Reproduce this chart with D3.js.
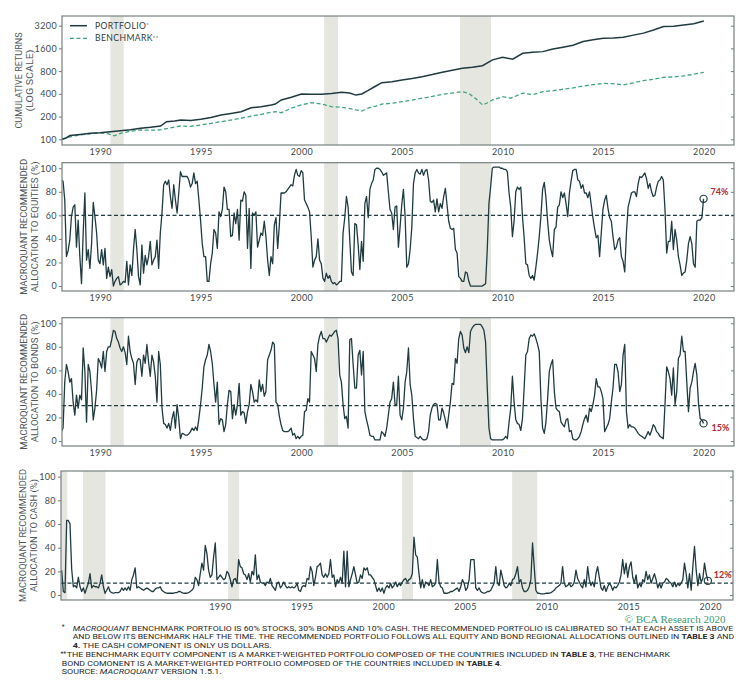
<!DOCTYPE html>
<html>
<head>
<meta charset="utf-8">
<script src="https://cdn.jsdelivr.net/npm/d3@7"></script>
<style>
  body { margin: 0; background: #fff; }
  .tick text { font-family: Lato, "Open Sans", sans-serif; font-size: 9px; fill: #3d4b50; letter-spacing: 0.4px; }
  .tick line { stroke: #6f7a7c; }
</style>
</head>
<body>
<svg id="chart" width="752" height="684"></svg>
<script>
// ---- data ----
var yearTicks = [1990, 1995, 2000, 2005, 2010, 2015, 2020];
var cumTicks = [100, 200, 400, 800, 1600, 3200];
var pctTicks = [0, 20, 40, 60, 80, 100];

// US recessions [start, end] in decimal years
var recessions = [[1980.0, 1980.66], [1981.62, 1983.0], [1990.5, 1991.17], [2001.13, 2001.82], [2007.88, 2009.42]];

// cumulative returns (log scale), [year, index]
var portfolio = [
  [1988.1,100],[1988.3,104],[1988.5,112],[1989,116],[1989.5,120],[1990,122],[1990.5,126],[1991,130],[1991.5,134],
  [1992,140],[1992.5,144],[1993,150],[1993.3,171],[1993.7,175],[1994,180],[1994.5,178],[1995,184],[1995.5,195],
  [1996,210],[1996.5,220],[1997,232],[1997.5,262],[1998,270],[1998.5,285],[1998.7,293],[1999,332],[1999.5,360],
  [2000,398],[2000.5,395],[2001,395],[2001.5,405],[2002,420],[2002.4,410],[2002.7,385],[2003,398],[2003.3,440],
  [2003.7,508],[2004,563],[2004.5,580],[2005,612],[2005.5,640],[2006,676],[2006.5,720],[2007,773],[2007.5,820],
  [2008,874],[2008.5,900],[2009,944],[2009.5,1128],[2010,1220],[2010.5,1150],[2011,1380],[2011.5,1420],[2012,1450],
  [2012.5,1570],[2013,1660],[2013.5,1760],[2014,1970],[2014.5,2080],[2015,2180],[2015.5,2200],[2016,2250],
  [2016.5,2400],[2017,2550],[2017.5,2800],[2018,3120],[2018.5,3150],[2019,3270],[2019.5,3400],[2020,3700]
];
var benchmark = [
  [1988.1,100],[1988.5,108],[1989,114],[1989.5,118],[1990,122],[1990.4,118],[1990.7,111],[1991,120],[1991.5,128],
  [1992,133],[1992.5,132],[1993,133],[1993.5,142],[1994,150],[1994.5,148],[1995,155],[1995.5,162],[1996,171],
  [1996.5,180],[1997,190],[1997.5,202],[1998,214],[1998.5,228],[1998.7,232],[1999,225],[1999.5,258],[2000,285],
  [2000.5,306],[2001,293],[2001.5,270],[2002,266],[2002.4,255],[2002.7,245],[2003,237],[2003.3,258],[2003.7,276],
  [2004,293],[2004.5,300],[2005,315],[2005.5,330],[2006,350],[2006.5,370],[2007,394],[2007.5,410],[2008,428],
  [2008.3,408],[2008.7,340],[2009,285],[2009.2,300],[2009.5,332],[2010,367],[2010.4,350],[2011,408],[2011.5,390],
  [2012,428],[2012.5,440],[2013,460],[2013.5,480],[2014,508],[2014.5,530],[2015,550],[2015.5,545],[2016,525],
  [2016.5,560],[2017,598],[2017.5,625],[2018,662],[2018.5,670],[2019,690],[2019.5,730],[2020,770]
];

// recommended allocations, monthly from early 1988 (%)
var allocStart = 1988.07;
var equityValues = [
  90,89,73,25,30,39,59,67,69,33,56,25,2,45,
  79,22,31,15,36,71,59,45,22,19, 31,18,32,6.5,16,8,14,0,4,6.5, 8,1,2,4,3,21,1,18,9,31,
  48,31,8,1,35,11,26,18,25,38, 18,22,25,39,15,45,62,86,89,86, 90,76,66,86,73,62,79,97,93,93,
  93,93,90,84,87,96,87,89,73,56, 36,25,25,4,
  4,19,28,48,45,32,63,59,65,84, 80,65,65,42,43,62,53,65,39,73, 72,80,77,32,66,15,62,60,63,33,
  39,45,43,55,42,22,9,25,19,52, 58,32,52,79,79,79,80,82,84,86, 85,94,99,94,93,98,96,73,70,67,
  63,42,16,22,25,40,22,19,6.5,4, 11,6.5,9,4,2,3,1,2,4,4, 45,58,76,67,39,12,9,53,52,35,
  14,38,21,70,76,58,82,87,90,99, 100,
  100,99,97,94,95,96,80,65,62,48, 67,68,33,50,69,82,59,16,19,31, 50,87,96,99,96,95,99,94,98,99,
  90,72,71,73,63,74,63,70,66,76, 83,69,55,49,48,49,31,28,8,6.5, 4,4,12,11,4,0,0,0,0,0,
  0,0,0,1,2,31,70,84,100,101, 101,101,101,100,100,99,99,97,79,67, 42,55,80,84,82,84,59,41,19,18,
  9,6.5,9,5,16,28,42,59,82,88, 75,55,39,31,25,48,50,67,69,80, 75,79,70,59,79,89,98,99,99,90,
  89,83,86,79,79,75,80,69,58,49, 41,43,25,45,65,73,77,66,58,55, 42,31,33,39,41,25,21,12,45,67,
  73,79,80,80,76,87,93,92,94,96, 91,83,87,80,76,77,84,89,90,93, 90,65,28,38,38,55,31,48,39,25,
  18,9,11,12,22,36,42,36,19,16, 55,56,56,58,74
];
var bondValues = [
  8,11,50,65,59,50,53,33,22,39, 28,39,35,79,59,16,65,59,42,18, 28,43,70,67,62,76,59,76,80,80,
  86,94,93,87,84,79,76,80,75,65, 89,76,70,66,48,67,70,69,55,73, 66,82,67,55,73,67,55,33,76,65,
  28,15,14,11,15,9,19,25,11,31, 19,2,6.5,6,5,5,6,8,11,9, 12,9,19,31,45,63,69,73,82,76,
  66,48,33,50,14,19,18,8,14,31, 43,42,19,31,22,31,49,22,25,24, 15,25,31,48,42,33,35,33,52,42,
  48,38,42,69,73,77,84,82,33,31, 21,14,9,8,8,8,9,11,5,6.5, 2,4,2,4,5,25,26,36,33,76,
  73,70,59,82,89,93,87,87,84,87, 90,89,91,93,94,87,56,50,31,19, 21,11,86,87,65,45,45,73,77,56,
  76,25,18,12,5,4,4,1,1,
  1,1,8,6.5,4,11,22,33,36,50, 31,31,55,22,18,28,50,59,79,48, 39,19,4,3,2,4,2,1,1,2,
  8,22,28,31,32,31,18,18,28,24, 18,11,22,33,49,48,70,66,87,93, 90,79,75,80,75,93,96,98,99,99,
  99,99,97,94,84,45,11,2,1,1, 1,1,1,1,1,2,4,2,16,28, 55,33,18,15,14,9,19,45,73,76,
  87,90,89,91,87,82,76,36,11,6.5, 16,36,59,65,69,42,28,26,25,16, 14,12,18,19,8,9,2,1,1,2,
  4,8,14,19,22,16,28,25,31,39, 53,46,46,42,36,8,11,14,19,33, 45,65,65,59,42,48,73,82,25,11,
  14,12,12,11,9,6.5,5,4,3,2, 5,8,5,9,14,12,8,6.5,4,3, 2,31,63,59,53,39,62,31,42,70,
  73,89,76,76,50,25,45,50,59,66, 56,32,19,18,15
];
// cash allocation, sampled about every 0.1 year from mid-1980 (%)
var cashStart = 1980.31;
var cashStep = 0.1022;
var cashValues = [
  21,3,2,63,63,60,22,7,8,6, 15,7,3,6,1.5,6,10,18,6,8, 7,7,6,10,17,7,1.5,4,7,3,
  2,1.5,2,2,2,3,6,4,6,4, 7,4,13,17,23,6,7,6,5,4, 5,6,5,4,3,3,5,6,6,7,
  4,3,2,1.5,1.5,1.5,1.5,1.5,2,2, 3,3,2,1.5,1.5,1.5,2,3,4,6, 15,13,8,18,27,21,42,35,21,15,
  17,32,44,13,15,17,15,13,14,20, 18,13,7,13,14,10,30,24,23,18, 17,13,18,11,20,17,34,13,17,11,
  10,10,8,11,10,14,8,6,4,10, 11,6,8,11,8,6,7,6,7,6, 7,10,4,3,7,8,7,14,13,24,
  20,8,15,24,25,27,17,15,18,15, 18,30,15,17,7,13,10,15,10,37, 7,37,7,13,18,24,17,10,11,17,
  14,23,21,23,17,17,15,13,8,
  3,6,3,6,1.5,6,8,6,10,6, 8,11,7,10,8,11,13,14,11,13, 14,18,49,34,32,18,6,13,6,11,
  10,8,13,7,8,10,30,11,7,6, 1.5,1.5,1.5,2,3,3,4,5,6,3, 7,13,10,4,6,13,30,30,30,6,
  4,6,3,2,1.5,2,3,3,4,7, 10,24,10,8,21,15,8,6,7,10, 8,13,14,18,24,11,13,6,3,3,
  4,7,13,44,24,4,1.5,1.5,1,1, 1,1.5,1.5,1.5,2,3,4,6,7,8, 10,24,10,7,8,10,7,8,11,21,
  14,11,8,6,13,7,24,13,8,11, 7,18,24,15,6,4,8,3,7,10, 8,4,7,6,8,11,17,30,18,27,
  15,24,28,15,10,17,6,10,7,13, 11,20,13,17,10,14,18,13,6,10, 6,10,11,14,13,11,10,7,11,7,
  10,8,10,13,27,18,6,18,4,24, 41,21,8,18,11,14,27,18,12
];
var benchmarkWeights = { equity: 60, bonds: 30, cash: 10 };

var footnotes = [
  { mark: "*", parts: [["MACROQUANT", "i"], [" BENCHMARK PORTFOLIO IS 60% STOCKS, 30% BONDS AND 10% CASH. THE RECOMMENDED PORTFOLIO IS CALIBRATED SO THAT EACH ASSET IS ABOVE", ""]] },
  { parts: [["AND BELOW ITS BENCHMARK HALF THE TIME. THE RECOMMENDED PORTFOLIO FOLLOWS ALL EQUITY AND BOND REGIONAL ALLOCATIONS OUTLINED IN ", ""], ["TABLE 3", "b"], [" AND", ""]] },
  { parts: [["4.", "b"], [" THE CASH COMPONENT IS ONLY US DOLLARS.", ""]] },
  { mark: "**", parts: [["THE BENCHMARK EQUITY COMPONENT IS A MARKET-WEIGHTED PORTFOLIO COMPOSED OF THE COUNTRIES INCLUDED IN ", ""], ["TABLE 3", "b"], [", THE BENCHMARK", ""]] },
  { parts: [["BOND COMONENT IS A MARKET-WEIGHTED PORTFOLIO COMPOSED OF THE COUNTRIES INCLUDED IN ", ""], ["TABLE 4", "b"], [".", ""]] },
  { parts: [["SOURCE: ", ""], ["MACROQUANT", "i"], [" VERSION 1.5.1.", ""]] }
];

// ---- drawing ----
var svg = d3.select("#chart");
var darkLine = "#1f3b40";
var green = "#3fa57b";
var frameColor = "#75807f";
var labelFont = "Roboto, 'Liberation Sans', Arial, sans-serif";

var xMain = d3.scaleLinear().domain([1988.1, 2021.5]).range([62, 734]);
var xCash = d3.scaleLinear().domain([1980.27, 2021.4]).range([61, 733]);

function monthly(start, values) {
  return values.map(function (v, i) { return [start + i / 12, v]; });
}
function stepped(start, step, values) {
  return values.map(function (v, i) { return [start + i * step, v]; });
}

var panels = [
  { id: "cum", top: 16, bottom: 145, x: xMain,
    y: d3.scaleLog().domain([84, 4300]).range([145, 16]), ticks: cumTicks,
    label: ["CUMULATIVE RETURNS", "(LOG SCALE)"], labelX: [18, 29.5], labelLen: [96, 62] },
  { id: "eq", top: 162.7, bottom: 291, x: xMain,
    y: d3.scaleLinear().domain([-4.2, 104.7]).range([291, 162.7]), ticks: pctTicks,
    series: monthly(allocStart, equityValues), ref: benchmarkWeights.equity,
    label: ["MACROQUANT RECOMMENDED", "ALLOCATION TO EQUITIES (%)"], labelX: [23.3, 34.3], labelLen: [136, 131],
    note: { text: "74%", dx: 7, dy: -7 } },
  { id: "bd", top: 317.7, bottom: 446, x: xMain,
    y: d3.scaleLinear().domain([-4.2, 104.7]).range([446, 317.7]), ticks: pctTicks,
    series: monthly(allocStart, bondValues), ref: benchmarkWeights.bonds,
    label: ["MACROQUANT RECOMMENDED", "ALLOCATION TO BONDS (%)"], labelX: [23.3, 34.3], labelLen: [136, 121],
    note: { text: "15%", dx: 8, dy: 4.5 } },
  { id: "cs", top: 471, bottom: 600, x: xCash,
    y: d3.scaleLinear().domain([-4.2, 104.8]).range([600, 471]), ticks: pctTicks,
    series: stepped(cashStart, cashStep, cashValues), ref: benchmarkWeights.cash,
    label: ["MACROQUANT RECOMMENDED", "ALLOCATION TO CASH (%)"], labelX: [22.7, 33.7], labelLen: [133, 113],
    note: { text: "12%", dx: 6, dy: -5.5 } }
];

panels.forEach(function (p) {
  var x0 = p.x.range()[0], x1 = p.x.range()[1];
  var g = svg.append("g");

  g.append("clipPath").attr("id", "clip-" + p.id)
    .append("rect").attr("x", x0).attr("y", p.top).attr("width", x1 - x0).attr("height", p.bottom - p.top);

  // recession bands
  var dom = p.x.domain();
  g.selectAll("rect.band")
    .data(recessions.filter(function (r) { return r[1] > dom[0]; }))
    .join("rect")
    .attr("class", "band")
    .attr("x", function (d) { return p.x(Math.max(d[0], dom[0])); })
    .attr("width", function (d) { return p.x(d[1]) - p.x(Math.max(d[0], dom[0])); })
    .attr("y", p.top)
    .attr("height", p.bottom - p.top)
    .attr("fill", "#e6e6e1");

  // axes
  g.append("g")
    .attr("transform", "translate(" + x0 + ",0)")
    .call(d3.axisLeft(p.y).tickValues(p.ticks).tickFormat(d3.format("d")).tickSize(3).tickPadding(2))
    .call(function (a) { a.select(".domain").remove(); });
  g.append("g")
    .attr("transform", "translate(" + x1 + ",0)")
    .call(d3.axisLeft(p.y).tickValues(p.ticks).tickFormat("").tickSize(3))
    .call(function (a) { a.select(".domain").remove(); });
  g.append("g")
    .attr("transform", "translate(0," + p.bottom + ")")
    .call(d3.axisBottom(p.x).tickValues(yearTicks).tickFormat(d3.format("d")).tickSize(0).tickPadding(4))
    .call(function (a) { a.select(".domain").remove(); });

  var plot = g.append("g").attr("clip-path", "url(#clip-" + p.id + ")");

  if (p.id === "cum") {
    var line = d3.line().x(function (d) { return p.x(d[0]); }).y(function (d) { return p.y(d[1]); });
    plot.append("path").datum(benchmark)
      .attr("fill", "none").attr("stroke", green).attr("stroke-width", 1.3)
      .attr("stroke-dasharray", "4,2.5").attr("d", line);
    plot.append("path").datum(portfolio)
      .attr("fill", "none").attr("stroke", darkLine).attr("stroke-width", 1.5).attr("d", line);

    // legend
    var leg = g.append("g").attr("font-family", "Lato, 'Open Sans', sans-serif").attr("font-size", 8.6)
      .attr("fill", "#2f3a3d").attr("letter-spacing", 0.4);
    leg.append("line").attr("x1", 70).attr("x2", 87).attr("y1", 25.7).attr("y2", 25.7)
      .attr("stroke", darkLine).attr("stroke-width", 1.5);
    leg.append("line").attr("x1", 70).attr("x2", 87).attr("y1", 38.3).attr("y2", 38.3)
      .attr("stroke", green).attr("stroke-width", 1.3).attr("stroke-dasharray", "4,2.5");
    var t1 = leg.append("text").attr("x", 95).attr("y", 25.7).attr("dy", "0.35em");
    t1.append("tspan").text("PORTFOLIO");
    t1.append("tspan").attr("font-size", 6).attr("dy", "-0.3em").text("*");
    var t2 = leg.append("text").attr("x", 95).attr("y", 38.3).attr("dy", "0.35em");
    t2.append("tspan").text("BENCHMARK");
    t2.append("tspan").attr("font-size", 6).attr("dy", "-0.3em").text("**");
  } else {
    plot.append("line")
      .attr("x1", x0).attr("x2", x1).attr("y1", p.y(p.ref)).attr("y2", p.y(p.ref))
      .attr("stroke", darkLine).attr("stroke-width", 1.3).attr("stroke-dasharray", "4,2.5");
    var aline = d3.line().x(function (d) { return p.x(d[0]); }).y(function (d) { return p.y(d[1]); });
    plot.append("path").datum(p.series)
      .attr("fill", "none").attr("stroke", darkLine).attr("stroke-width", 1.3)
      .attr("stroke-linejoin", "round").attr("d", aline);

    var last = p.series[p.series.length - 1];
    g.append("circle").attr("cx", p.x(last[0])).attr("cy", p.y(last[1])).attr("r", 3.6)
      .attr("fill", "none").attr("stroke", darkLine).attr("stroke-width", 1.2);
    g.append("text").attr("x", p.x(last[0]) + p.note.dx).attr("y", p.y(last[1]) + p.note.dy)
      .attr("dy", "0.35em").attr("font-family", "Lato, 'Open Sans', sans-serif")
      .attr("font-size", 9).attr("font-weight", "bold").attr("fill", "#b3282c")
      .text(p.note.text);
  }

  // frame
  g.append("rect").attr("x", x0).attr("y", p.top).attr("width", x1 - x0).attr("height", p.bottom - p.top)
    .attr("fill", "none").attr("stroke", frameColor).attr("stroke-width", 1.2);

  // y label
  var cy = (p.top + p.bottom) / 2;
  p.label.forEach(function (s, i) {
    g.append("text")
      .attr("transform", "translate(" + p.labelX[i] + "," + cy + ") rotate(-90)")
      .attr("text-anchor", "middle").attr("dominant-baseline", "central")
      .attr("font-family", labelFont).attr("font-size", 9.5).attr("fill", "#4d5659")
      .attr("textLength", p.labelLen[i]).attr("lengthAdjust", "spacingAndGlyphs")
      .text(s);
  });
});

// copyright
svg.append("text").attr("x", 725.5).attr("y", 618.7).attr("dy", "0.35em")
  .attr("text-anchor", "end").attr("font-family", "'Liberation Serif', 'DejaVu Serif', serif")
  .attr("font-size", 11).attr("fill", "#3a9a6e").text("\u00a9 BCA Research 2020");

// footnotes
var noteRows = [
  { y: 628, x: 72.7, w: 660.6, markX: 61.7 },
  { y: 636.7, x: 72.7, w: 661.6 },
  { y: 645.3, x: 72.7, w: 199 },
  { y: 654.7, x: 66.7, w: 603.3, markX: 60.5 },
  { y: 663, x: 61.7, w: 440.3 },
  { y: 671.3, x: 61.7, w: 160 }
];
footnotes.forEach(function (f, i) {
  var r = noteRows[i];
  if (f.mark) {
    svg.append("text").attr("x", r.markX).attr("y", r.y).attr("dy", "0.2em")
      .attr("font-family", labelFont).attr("font-size", 6.5).attr("fill", "#333").text(f.mark);
  }
  var t = svg.append("text").attr("x", r.x).attr("y", r.y).attr("dy", "0.35em")
    .attr("font-family", labelFont).attr("font-size", 7.6).attr("fill", "#2b2b2b")
    .attr("textLength", r.w).attr("lengthAdjust", "spacingAndGlyphs");
  f.parts.forEach(function (pt) {
    var s = t.append("tspan").text(pt[0]);
    if (pt[1] === "i") s.attr("font-style", "italic");
    if (pt[1] === "b") s.attr("font-weight", "bold");
  });
});
</script>
</body>
</html>
